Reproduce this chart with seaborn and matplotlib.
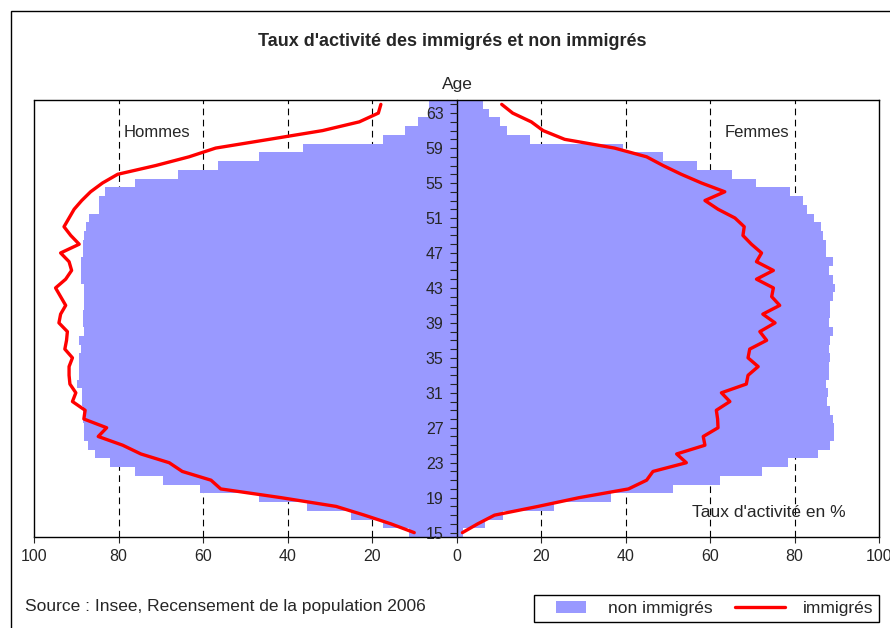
#!/usr/bin/env python3
"""
Taux d'activité des immigrés et non immigrés par âge (pyramide).
Barres : non immigrés, ligne rouge : immigrés. Hommes à gauche, femmes à droite.
"""

import numpy as np
import pandas as pd
import matplotlib.pyplot as plt
import seaborn as sns
from matplotlib.patches import Patch, Rectangle
from matplotlib.lines import Line2D
from matplotlib.legend_handler import HandlerPatch

# Ages 15 -> 64
ages = list(range(15, 65))

# Non immigrés, hommes (taux d'activité en %)
men_non_imm = [
    11.2, 17.3, 25.0, 35.3, 46.7, 60.6, 69.5, 76.1, 81.9, 85.5,
    87.2, 88.2, 88.2, 88.5, 88.5, 88.7, 88.7, 89.8, 89.3, 89.3,
    89.3, 88.9, 89.3, 88.2, 88.5, 88.5, 88.2, 88.2, 88.2, 88.8,
    88.8, 88.8, 88.5, 88.5, 88.2, 87.6, 87.0, 84.6, 84.6, 83.2,
    76.1, 66.0, 56.4, 46.7, 36.4, 17.3, 12.3, 9.2, 6.4, 6.4,
]

# Non immigrés, femmes
women_non_imm = [
    1.5, 6.8, 11.0, 23.0, 36.5, 51.3, 62.3, 72.2, 78.5, 85.5,
    88.5, 89.3, 89.3, 89.0, 88.5, 87.8, 88.0, 87.4, 88.2, 88.2,
    88.5, 88.2, 88.5, 89.0, 88.2, 88.5, 88.4, 89.0, 89.7, 89.0,
    88.2, 89.0, 87.4, 87.4, 86.7, 86.3, 84.6, 82.9, 81.9, 78.9,
    71.0, 65.1, 56.9, 48.9, 39.4, 17.5, 12.0, 10.2, 7.8, 6.2,
]

# Immigrés, hommes
men_imm = [
    10.0, 15.5, 21.8, 28.5, 41.5, 55.8, 58.1, 64.9, 68.0, 74.7,
    79.0, 84.8, 82.8, 88.2, 87.9, 90.9, 90.1, 91.5, 91.7, 91.7,
    90.9, 92.7, 92.3, 92.1, 94.1, 93.7, 92.5, 93.7, 94.9, 92.5,
    91.1, 91.7, 93.7, 89.3, 91.3, 92.9, 91.7, 90.5, 88.7, 86.6,
    83.8, 80.2, 71.2, 63.3, 57.0, 44.3, 31.7, 23.0, 18.5, 17.9,
]

# Immigrés, femmes
women_imm = [
    1.4, 5.0, 9.0, 19.3, 29.0, 40.7, 45.0, 46.5, 54.4, 52.1,
    58.8, 58.4, 61.9, 61.8, 61.5, 64.7, 62.7, 68.6, 69.0, 71.4,
    69.0, 69.4, 73.4, 71.8, 75.4, 72.5, 76.5, 74.6, 75.0, 71.0,
    75.0, 71.0, 72.2, 69.8, 67.8, 68.1, 65.9, 61.9, 58.8, 63.5,
    58.0, 53.2, 48.9, 45.0, 37.4, 25.6, 20.5, 17.7, 13.3, 10.7,
]

x_ticks = list(range(-100, 101, 20))
x_tick_labels = [str(abs(v)) for v in x_ticks]
age_labels = list(range(15, 64, 4))

BAR_COLOR = "#9999FF"
LINE_COLOR = "#FF0000"


def build_frame() -> pd.DataFrame:
    """Long table: men values are negated to sit on the left side."""
    df = pd.DataFrame(
        {
            "age": ages * 2,
            "non_imm": [-v for v in men_non_imm] + women_non_imm,
            "imm": [-v for v in men_imm] + women_imm,
            "sexe": ["Hommes"] * len(ages) + ["Femmes"] * len(ages),
        }
    )
    return df


def small_patch(legend, orig_handle, xdescent, ydescent, width, height, fontsize):
    # Excel draws a narrower swatch than the line sample
    return Rectangle((-xdescent + 0.32 * width, -ydescent), 0.6 * width, height)


def draw(df: pd.DataFrame) -> None:
    sns.set_style("white")
    plt.rcParams["font.family"] = ["Liberation Sans", "DejaVu Sans"]

    fig = plt.figure(figsize=(8.9, 6.28), dpi=100)
    ax = fig.add_axes([34 / 890, 1 - 537 / 628, (879 - 34) / 890, 437 / 628])

    # dashed gridlines behind the bars
    for v in [-80, -60, -40, -20, 20, 40, 60, 80]:
        ax.axvline(v, color="black", lw=0.8, ls=(0, (6, 4)), zorder=0)

    for sexe in ["Hommes", "Femmes"]:
        sub = df[df["sexe"] == sexe]
        sns.barplot(
            data=sub, x="non_imm", y="age", orient="y", native_scale=True,
            width=1, color=BAR_COLOR, saturation=1, linewidth=0, ax=ax,
        )
        sns.lineplot(
            data=sub, x="imm", y="age", orient="y", color=LINE_COLOR,
            lw=2.4, estimator=None, ax=ax, zorder=3,
        )

    ax.set_xlim(-100, 100)
    ax.set_ylim(14.5, 64.5)
    ax.set_xlabel("")
    ax.set_ylabel("")
    ax.set_axisbelow(False)

    # age axis in the middle
    ax.spines["left"].set_position(("data", 0))
    for side in ["top", "right", "bottom", "left"]:
        ax.spines[side].set_color("black")
        ax.spines[side].set_linewidth(1.0)
    ax.axvline(-100, color="black", lw=1.0, clip_on=False)

    ax.set_yticks(age_labels)
    ax.set_yticks(ages, minor=True)
    ax.tick_params(axis="y", which="both", direction="out", length=4.8,
                   width=0.8, labelsize=11.5, pad=4.5, left=True)
    ax.set_xticks(x_ticks)
    ax.set_xticklabels(x_tick_labels)
    ax.tick_params(axis="x", direction="out", length=4, width=0.8,
                   labelsize=11.5, pad=4.5, bottom=True)

    # annotations inside the plot
    ax.text(-70.9, 60.8, "Hommes", ha="center", va="center", fontsize=12)
    ax.text(71, 60.8, "Femmes", ha="center", va="center", fontsize=12)
    ax.text(74, 17.3, "Taux d'activité en %", ha="center", va="center",
            fontsize=12.5)

    fig.text(457 / 890, 1 - 85 / 628, "Age", ha="center", va="center",
             fontsize=12.5)
    fig.text(452 / 890, 1 - 42 / 628,
             "Taux d'activité des immigrés et non immigrés",
             ha="center", va="center", fontsize=13, fontweight="bold")
    fig.text(25 / 890, 1 - 607 / 628,
             "Source : Insee, Recensement de la population 2006",
             ha="left", va="center", fontsize=12.5)

    handles = [
        Patch(facecolor=BAR_COLOR, edgecolor="none", label="non immigrés"),
        Line2D([], [], color=LINE_COLOR, lw=2.4, label="immigrés"),
    ]
    leg = fig.legend(
        handles=handles, loc="center", bbox_to_anchor=(706.5 / 890, 1 - 608.5 / 628),
        ncol=2, frameon=True, fancybox=False, edgecolor="black", framealpha=1,
        fontsize=12.5, handlelength=2.9, columnspacing=1.3, borderpad=0.35,
        handletextpad=1.0, borderaxespad=0,
        handler_map={Patch: HandlerPatch(patch_func=small_patch)},
    )
    leg.get_frame().set_linewidth(1.0)

    # outer chart border
    fig.patches.append(
        Rectangle((11 / 890, -0.1), 1.2, 1.1 - 11 / 628, transform=fig.transFigure,
                  fill=False, edgecolor="black", lw=1.0)
    )

    fig.savefig("out.png", dpi=100, facecolor="white")
    plt.close(fig)


if __name__ == "__main__":
    draw(build_frame())
